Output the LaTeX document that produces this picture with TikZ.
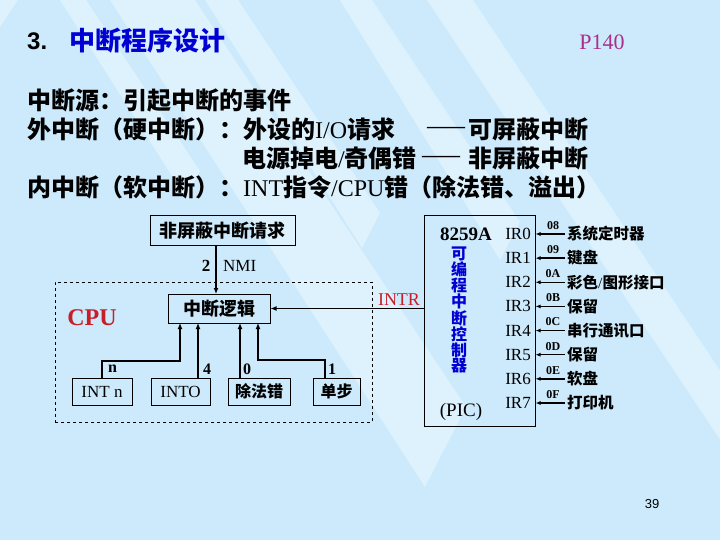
\documentclass[tikz,border=0pt]{standalone}
\usepackage{fontspec}
\setmainfont{Liberation Serif}
\newfontfamily\cjk{Noto Sans CJK SC}
\newfontfamily\hei{Liberation Sans}
\usetikzlibrary{arrows.meta}
\definecolor{bg}{RGB}{204,234,251}
\definecolor{stripe}{RGB}{221,242,253}
\definecolor{tblue}{RGB}{0,0,210}
\definecolor{pmag}{RGB}{168,48,140}
\definecolor{cred}{RGB}{200,30,40}
\tikzset{
  txt/.style={inner sep=0pt, anchor=west},
  boxn/.style={draw, line width=1pt, inner sep=0pt},
  arr/.style={-{Latex[length=6pt,width=5pt]}, line width=1.7pt},
  irarr/.style={-{Latex[length=5pt,width=4pt]}, line width=1.4pt},
  hexl/.style={inner sep=0pt, font=\bfseries\fontsize{12}{12}\selectfont},
  devl/.style={inner sep=0pt, anchor=west, font=\cjk\bfseries\fontsize{15.5}{15.5}\selectfont},
  irl/.style={inner sep=0pt, anchor=east, font=\fontsize{17}{17}\selectfont},
  big/.style={font=\cjk\bfseries\fontsize{24}{24}\selectfont},
  dsh/.style={inner sep=0pt, anchor=west, font=\rmfamily\bfseries\fontsize{19}{19}\selectfont}
}
\begin{document}
\begin{tikzpicture}[x=1pt,y=-1pt]
% background
\fill[bg] (0,0) rectangle (720,540);
\useasboundingbox (0,0) rectangle (720,540);
\begin{scope}
\clip (0,0) rectangle (720,540);
\fill[stripe] (0,0) -- (18,0) -- (0,27) -- cycle;
\fill[stripe] (60,0) -- (86,0) -- (200,171) -- (186,198) -- cycle;
\fill[stripe] (110,0) -- (195,0) -- (466,407) -- (425,487) -- cycle;
\fill[stripe] (205,0) -- (238,0) -- (380,213) -- (362,248) -- cycle;
\fill[stripe] (340,0) -- (372,0) -- (520,222) -- (500,260) -- cycle;
\fill[stripe] (427,0) -- (473,0) -- (833,540) -- (787,540) -- cycle;
\end{scope}

% title
\node[txt, font=\hei\bfseries\fontsize{24}{24}\selectfont] (t3) at (27,41) {3.};
\node[txt, font=\cjk\bfseries\fontsize{26}{26}\selectfont, text=tblue] (title) at (69,41) {中断程序设计};
\node[inner sep=0pt, font=\fontsize{22}{22}\selectfont, text=pmag] (page) at (602,42) {P140};

% text lines
\node[txt, big] (l1) at (27,100) {中断源：引起中断的事件};
\node[txt, big] (l2) at (27,129) {外中断（硬中断）：外设的{\rmfamily\mdseries I/O}请求};
\node[dsh] (d2) at (427,130) {——};
\node[txt, big] (l2b) at (468,129) {可屏蔽中断};
\node[txt, big] (l3) at (242,158) {电源掉电{\rmfamily\mdseries /}奇偶错};
\node[dsh] (d3) at (422,159) {——};
\node[txt, big] (l3b) at (468,158) {非屏蔽中断};
\node[txt, big] (l4) at (27,187) {内中断（软中断）：{\rmfamily\mdseries INT}指令{\rmfamily\mdseries /CPU}错（除法错、溢出）};

% CPU area
\node[draw, dashed, line width=1pt, minimum width=317pt, minimum height=140pt, inner sep=0pt] (cpubox) at (213.5,352) {};
\node[inner sep=0pt, text=cred, font=\bfseries\fontsize{24}{24}\selectfont] (cpul) at (92,318) {CPU};

\node[boxn, minimum width=145pt, minimum height=29pt, font=\cjk\bfseries\fontsize{18}{18}\selectfont] (nmi) at (222.5,230.5) {非屏蔽中断请求};
\node[boxn, minimum width=102pt, minimum height=29pt, font=\cjk\bfseries\fontsize{18}{18}\selectfont] (logic) at (219,308.5) {中断逻辑};

\node[boxn, minimum width=60pt, minimum height=27pt, font=\fontsize{17}{17}\selectfont] (intn) at (102,391.5) {INT n};
\node[boxn, minimum width=59pt, minimum height=27pt, font=\fontsize{17}{17}\selectfont] (intob) at (180.5,391.5) {INTO};
\node[boxn, minimum width=62pt, minimum height=27pt, font=\cjk\bfseries\fontsize{16}{16}\selectfont] (divb) at (259,391.5) {除法错};
\node[boxn, minimum width=47pt, minimum height=27pt, font=\cjk\bfseries\fontsize{16}{16}\selectfont] (stepb) at (336.5,391.5) {单步};

% NMI
\coordinate (nmitop) at (216,245);
\coordinate (nmibot) at (216,294);
\draw[arr] (nmitop) -- (nmibot);
\node[inner sep=0pt, font=\bfseries\fontsize{17}{17}\selectfont] (two) at (206,266) {2};
\node[inner sep=0pt, anchor=west, font=\fontsize{17}{17}\selectfont] (nmil) at (223,266) {NMI};

% lower inputs
\coordinate (ln) at (180,323);
\coordinate (l4c) at (198,323);
\coordinate (l0) at (240,323);
\coordinate (l1c) at (258,323);
\draw[arr] (intn.north) |- (180,361) -- (ln);
\draw[arr] (intob.north -| l4c) -- (l4c);
\draw[arr] (divb.north -| l0) -- (l0);
\draw[arr] (stepb.north -| 325,0) |- (258,360) -- (l1c);
\node[inner sep=0pt, anchor=west, font=\bfseries\fontsize{16}{16}\selectfont] (lbn) at (108,369) {n};
\node[inner sep=0pt, anchor=west, font=\bfseries\fontsize{16}{16}\selectfont] (lb4) at (203,369) {4};
\node[inner sep=0pt, anchor=west, font=\bfseries\fontsize{16}{16}\selectfont] (lb0) at (243,369) {0};
\node[inner sep=0pt, anchor=west, font=\bfseries\fontsize{16}{16}\selectfont] (lb1) at (328,369) {1};

% 8259A
\node[boxn, minimum width=111pt, minimum height=210pt] (pic) at (479.5,321) {};
\draw[arr] (pic.west |- logic.east) -- (logic.east);
\node[inner sep=0pt, text=cred, font=\fontsize{18}{18}\selectfont] (intr) at (399,300) {INTR};
\node[inner sep=0pt, font=\bfseries\fontsize{19}{19}\selectfont] (chip) at (466,234) {8259A};
\node[inner sep=0pt, align=center, text=tblue, font=\cjk\bfseries\fontsize{16}{14.4}\selectfont] (vt) at (459,310) {可\\编\\程\\中\\断\\控\\制\\器};
\node[inner sep=0pt, font=\fontsize{19}{19}\selectfont] (picl) at (461,412) {(PIC)};

\foreach \i/\hx/\dev in {0/08/系统定时器,1/09/键盘,2/0A/彩色{\rmfamily\mdseries /}图形接口,3/0B/保留,4/0C/串行通讯口,5/0D/保留,6/0E/软盘,7/0F/打印机}{
  \pgfmathsetmacro{\yy}{234+24.14*\i}
  \node[irl] (ir\i) at (531,\yy) {IR\i};
  \coordinate (src\i) at (565,\yy);
  \draw[irarr] (src\i) -- (pic.east |- src\i);
  \node[hexl] (hx\i) at (553,\yy-8.5) {\hx};
  \node[devl] (dev\i) at (567,\yy) {\dev};
}

\node[inner sep=0pt, font=\hei\fontsize{13}{13}\selectfont] (pnum) at (652,504) {39};
\end{tikzpicture}
\end{document}
